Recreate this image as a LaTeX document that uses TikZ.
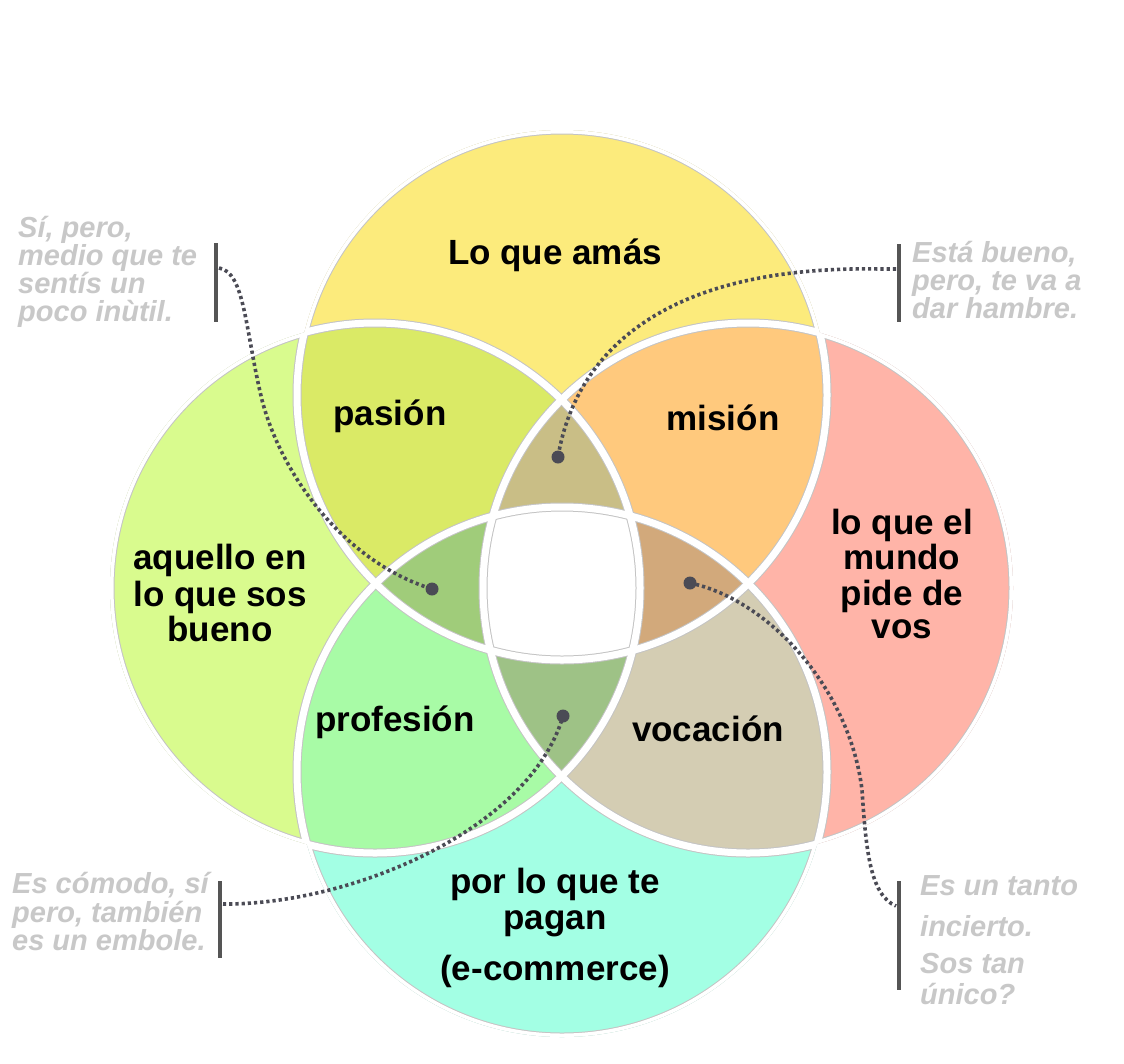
\documentclass[tikz,border=0pt]{standalone}
\usepackage{fontspec}
\setmainfont{Liberation Sans}
\definecolor{cTop}{HTML}{FCEB7C}
\definecolor{cLeft}{HTML}{D9FB8E}
\definecolor{cRight}{HTML}{FFB4A8}
\definecolor{cBot}{HTML}{A3FFE4}
\definecolor{cPas}{HTML}{DAEA66}
\definecolor{cMis}{HTML}{FFC97D}
\definecolor{cPro}{HTML}{A8FBA6}
\definecolor{cVoc}{HTML}{D4CDB3}
\definecolor{cTUp}{HTML}{C9BE86}
\definecolor{cTLe}{HTML}{A0CC7A}
\definecolor{cTRi}{HTML}{D2A97B}
\definecolor{cTBo}{HTML}{9EC286}
\definecolor{notegray}{HTML}{C8C8C8}
\definecolor{dotc}{HTML}{4B4B55}
\definecolor{barc}{HTML}{555555}
\definecolor{edgec}{HTML}{C4C4C4}
\def\myR{265}
\begin{document}
\begin{tikzpicture}[x=1pt,y=-1pt,
  lab/.style={font=\fontsize{35}{37}\selectfont\bfseries, anchor=base, inner sep=0},
  note/.style={font=\fontsize{29}{28}\selectfont\bfseries\itshape, text=notegray, anchor=base west, inner sep=0},
  conn/.style={draw=dotc, line width=3.6pt, dash pattern=on 3.2pt off 3pt},
  bar/.style={draw=barc, line width=4.5pt},
  edge/.style={draw=edgec, line width=9pt},
  gap/.style={draw=white, line width=7pt}]
\useasboundingbox (0,0) rectangle (1124,1063);
\fill[white] (0,0) rectangle (1124,1063);
\coordinate (T) at (562,395);
\coordinate (B) at (562,772);
\coordinate (L) at (375,588);
\coordinate (Q) at (748,588);
% single circles
\fill[cTop] (T) circle[radius=\myR];
\fill[cLeft] (L) circle[radius=\myR];
\fill[cRight] (Q) circle[radius=\myR];
\fill[cBot] (B) circle[radius=\myR];
% pair overlaps
\begin{scope}\clip (T) circle[radius=\myR]; \fill[cPas] (L) circle[radius=\myR];\end{scope}
\begin{scope}\clip (T) circle[radius=\myR]; \fill[cMis] (Q) circle[radius=\myR];\end{scope}
\begin{scope}\clip (B) circle[radius=\myR]; \fill[cPro] (L) circle[radius=\myR];\end{scope}
\begin{scope}\clip (B) circle[radius=\myR]; \fill[cVoc] (Q) circle[radius=\myR];\end{scope}
% triple overlaps
\begin{scope}\clip (T) circle[radius=\myR]; \clip (L) circle[radius=\myR]; \fill[cTUp] (Q) circle[radius=\myR];\end{scope}
\begin{scope}\clip (T) circle[radius=\myR]; \clip (B) circle[radius=\myR]; \fill[cTLe] (L) circle[radius=\myR];\end{scope}
\begin{scope}\clip (T) circle[radius=\myR]; \clip (B) circle[radius=\myR]; \fill[cTRi] (Q) circle[radius=\myR];\end{scope}
\begin{scope}\clip (B) circle[radius=\myR]; \clip (L) circle[radius=\myR]; \fill[cTBo] (Q) circle[radius=\myR];\end{scope}
% centre
\begin{scope}\clip (T) circle[radius=\myR]; \clip (B) circle[radius=\myR]; \clip (L) circle[radius=\myR]; \fill[white] (Q) circle[radius=\myR];\end{scope}
% white gaps with thin grey edges
\begin{scope}
\clip (T) circle[radius=\myR] (B) circle[radius=\myR] (L) circle[radius=\myR] (Q) circle[radius=\myR];
\foreach \c in {T,B,L,Q} {\draw[edge] (\c) circle[radius=\myR];}
\foreach \c in {T,B,L,Q} {\draw[gap] (\c) circle[radius=\myR];}
\end{scope}
% labels
\node[lab] (lamas) at (555,264) {Lo que amás};
\node[lab] (lpas) at (390,425) {pasión};
\node[lab] (lmis) at (723,430) {misión};
\node[lab] (lbue1) at (220,569) {aquello en};
\node[lab] (lbue2) at (220,606) {lo que sos};
\node[lab] (lbue3) at (220,641) {bueno};
\node[lab] (lmun1) at (902,534) {lo que el};
\node[lab] (lmun2) at (902,569) {mundo};
\node[lab] (lmun3) at (902,605) {pide de};
\node[lab] (lmun4) at (902,638) {vos};
\node[lab] (lpro) at (395,731) {profesión};
\node[lab] (lvoc) at (708,741) {vocación};
\node[lab] (lpag1) at (555,893) {por lo que te};
\node[lab] (lpag2) at (555,929) {pagan};
\node[lab] (lpag3) at (555,980) {(e-commerce)};
% annotations
\node[note] (n11) at (18,237) {Sí, pero,};
\node[note] (n12) at (18,265) {medio que te};
\node[note] (n13) at (18,293) {sentís un};
\node[note] (n14) at (18,321) {poco inùtil.};
\node[note] (n21) at (912,262) {Está bueno,};
\node[note] (n22) at (912,290) {pero, te va a};
\node[note] (n23) at (912,318) {dar hambre.};
\node[note] (n31) at (12,893) {Es cómodo, sí};
\node[note] (n32) at (12,922) {pero, también};
\node[note] (n33) at (12,950) {es un embole.};
\node[note] (n41) at (920,895) {Es un tanto};
\node[note] (n42) at (920,936) {incierto.};
\node[note] (n43) at (920,973) {Sos tan};
\node[note] (n44) at (920,1004) {único?};
% bars
\coordinate (b1t) at (216,243); \coordinate (b1b) at (216,322);
\coordinate (b2t) at (899,244); \coordinate (b2b) at (899,322);
\coordinate (b3t) at (220,881); \coordinate (b3b) at (220,958);
\coordinate (b4t) at (899,881); \coordinate (b4b) at (899,990);
\draw[bar] (b1t) -- (b1b);
\draw[bar] (b2t) -- (b2b);
\draw[bar] (b3t) -- (b3b);
\draw[bar] (b4t) -- (b4b);
% connector ends
\coordinate (s1) at (219,268);
\coordinate (s2) at (896,269);
\coordinate (s3) at (223,904);
\coordinate (s4) at (896,906);
\coordinate (d1) at (432,589);
\coordinate (d2) at (558,457);
\coordinate (d3) at (563,716);
\coordinate (d4) at (690,583);
\draw[conn] (s1) .. controls (245,272) and (245,330) .. (262,400) .. controls (280,470) and (340,560) .. (d1);
\draw[conn] (s2) -- (880,269) .. controls (660,265) and (575,355) .. (d2);
\draw[conn] (s3) .. controls (350,905) and (530,830) .. (d3);
\draw[conn] (d4) .. controls (770,600) and (850,690) .. (862,790) .. controls (866,850) and (870,895) .. (s4);
\foreach \d in {d1,d2,d3,d4} {\fill[dotc] (\d) circle[radius=6.5];}
\end{tikzpicture}
\end{document}
